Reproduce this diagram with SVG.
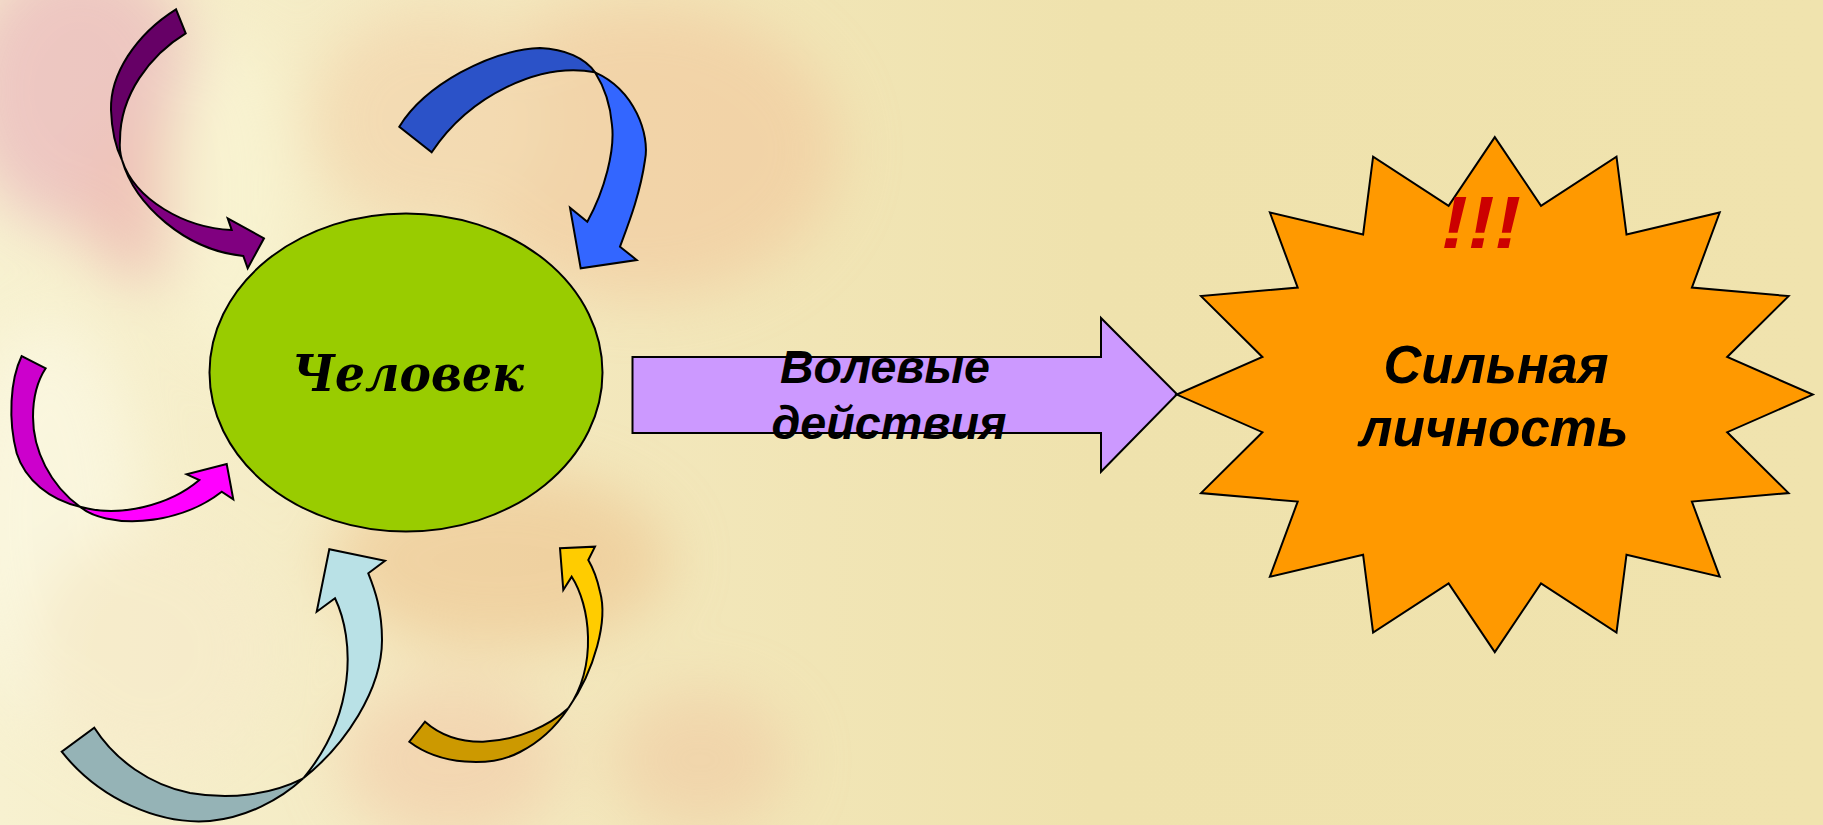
<svg xmlns="http://www.w3.org/2000/svg" width="1823" height="825" viewBox="0 0 1823 825">
  <defs>
    <linearGradient id="bgGrad" x1="0" y1="0" x2="1" y2="0">
      <stop offset="0" stop-color="#F7F1D0"/>
      <stop offset="0.3" stop-color="#F3E8BE"/>
      <stop offset="0.6" stop-color="#EFE2AD"/>
      <stop offset="1" stop-color="#F0E3AE"/>
    </linearGradient>
    <filter id="blurBig" x="-50%" y="-50%" width="200%" height="200%">
      <feGaussianBlur stdDeviation="30"/>
    </filter>
    <filter id="blurMid" x="-50%" y="-50%" width="200%" height="200%">
      <feGaussianBlur stdDeviation="14"/>
    </filter>
    <style>
      .ol { stroke: #000000; stroke-width: 2; stroke-linejoin: miter; }
      .sans { font-family: "Liberation Sans", Arial, sans-serif; font-weight: bold; font-style: italic; }
      .serif { font-family: "DejaVu Serif", "Liberation Serif", serif; font-weight: bold; font-style: italic; }
    </style>
  </defs>

  <g id="background">
    <rect x="0" y="0" width="1823" height="825" fill="url(#bgGrad)"/>
    <g filter="url(#blurBig)" opacity="0.55">
      <ellipse cx="80" cy="90" rx="120" ry="140" fill="#E6A6B8"/>
      <ellipse cx="150" cy="200" rx="70" ry="80" fill="#E9A0A8"/>
      <ellipse cx="230" cy="200" rx="60" ry="170" fill="#FBF8D8"/>
      <ellipse cx="50" cy="520" rx="90" ry="200" fill="#FDFBEA"/>
      <ellipse cx="640" cy="150" rx="200" ry="150" fill="#F2C59A"/>
      <ellipse cx="430" cy="120" rx="120" ry="110" fill="#F3CFA6"/>
      <ellipse cx="500" cy="560" rx="170" ry="90" fill="#EDC089"/>
      <ellipse cx="450" cy="760" rx="110" ry="80" fill="#F2C7A5"/>
      <ellipse cx="700" cy="760" rx="90" ry="70" fill="#F0C8A0"/>
      <ellipse cx="150" cy="650" rx="120" ry="120" fill="#F7EACB"/>
    </g>
  </g>

  <g id="connectors">
    <!-- purple curved arrow (top-left) -->
    <g id="arrow-purple">
      <path class="ol" fill="#660066" d="M176,9.3 C135,35 110,75 111,110 Q112,140 122,160 Q119,150 120,140 C120,95 150,55 185.7,33.3 Z"/>
      <path class="ol" fill="#800080" d="M122,160 C135,205 185,250 243.3,256 L247.7,268.3 L264,238.3 L227.7,218.3 L231.7,230 C185,228 135,200 122,160 Z"/>
    </g>
    <!-- blue curved arrow (top) -->
    <g id="arrow-blue">
      <path class="ol" fill="#2B52C8" d="M399.3,126.7 C425,85 490,50 540,48 C565,49 585,58 595,72.3 C540,62 470,95 431.7,152.3 Z"/>
      <path class="ol" fill="#3366FF" d="M595,72.3 C635,90 650,135 645,160 C640,195 628,225 620,246.7 L636.7,260 L580.7,268.3 L570,207.7 L587.3,221.7 C605,190 615,150 612,125 C610,100 603,85 595,72.3 Z"/>
    </g>
    <!-- magenta curved arrow (left) -->
    <g id="arrow-magenta">
      <path class="ol" fill="#CC00CC" d="M21.7,356 C10,380 8,420 16.7,453.3 C25,480 50,500 80,506.7 C50,485 33,450 33,417 C33,395 38,380 45.7,368.3 Z"/>
      <path class="ol" fill="#FF00FF" d="M80,506.7 C105,528 175,528 221.7,491.7 L233.3,499.3 L226.7,464 L186.7,474.3 L199.3,480 C170,505 120,518 80,506.7 Z"/>
    </g>
    <!-- grey-blue curved arrow (bottom) -->
    <g id="arrow-lightblue">
      <path class="ol" fill="#95B3B6" d="M61.7,751.7 C100,800 160,825 210,821 C245,818 280,800 303.3,778.3 C270,795 230,800 190,793 C150,785 115,760 94.3,727.7 Z"/>
      <path class="ol" fill="#B9E1E6" d="M303.3,778.3 C345,745 382,690 382,640 C382,610 375,590 368.3,573.3 L385,560.7 L329.3,549.3 L316.7,611.7 L335,598.3 C355,640 356,715 303.3,778.3 Z"/>
    </g>
    <!-- yellow curved arrow (bottom right) -->
    <g id="arrow-yellow">
      <path class="ol" fill="#CC9900" d="M409.3,741.7 C440,765 490,768 520,752 C540,742 555,728 568.3,708.3 C550,725 520,740 483,741.7 C460,742 440,735 425,721.7 Z"/>
      <path class="ol" fill="#FFCC00" d="M568.3,708.3 C595,670 608,620 600,591.7 C597,578 593,568 588.3,560 L595,546.7 L560,548.3 L563.3,590 L571.7,576.7 C590,605 598,665 568.3,708.3 Z"/>
    </g>
    <!-- block arrow -->
    <g id="arrow-block">
      <path class="ol" fill="#CC99FF" d="M632.5,357 L1101,357 L1101,318 L1177,394.3 L1101,471.7 L1101,433 L632.5,433 Z"/>
      <text class="sans" font-size="46" text-anchor="middle" x="885" y="383" textLength="210" lengthAdjust="spacingAndGlyphs" fill="#000000">Волевые</text>
      <text class="sans" font-size="46" text-anchor="middle" x="889" y="439" textLength="235" lengthAdjust="spacingAndGlyphs" fill="#000000">действия</text>
    </g>
  </g>

  <g id="node-chelovek">
    <ellipse class="ol" cx="406" cy="372.5" rx="196.5" ry="159" fill="#99CC00"/>
    <text class="serif" font-size="50" text-anchor="middle" x="408" y="391" textLength="232" lengthAdjust="spacingAndGlyphs" fill="#000000">Человек</text>
  </g>

  <g id="node-silnaya">
    <polygon class="ol" fill="#FF9900" points="1494.8,137.1 1541.0,205.8 1616.5,156.7 1626.5,234.5 1719.7,212.5 1691.9,287.6 1788.6,296.1 1727.2,357.0 1812.8,394.6 1727.2,432.2 1788.6,493.1 1691.9,501.6 1719.7,576.7 1626.5,554.7 1616.5,632.5 1541.0,583.4 1494.8,652.1 1448.6,583.4 1373.1,632.5 1363.1,554.7 1269.9,576.7 1297.7,501.6 1201.0,493.1 1262.4,432.2 1176.8,394.6 1262.4,357.0 1201.0,296.1 1297.7,287.6 1269.9,212.5 1363.1,234.5 1373.1,156.7 1448.6,205.8"/>
    <text class="sans" font-size="74" text-anchor="middle" x="1481" y="248" textLength="80" lengthAdjust="spacingAndGlyphs" fill="#CC0000">!!!</text>
    <text class="sans" font-size="54" text-anchor="middle" x="1496" y="383" textLength="225" lengthAdjust="spacingAndGlyphs" fill="#000000">Сильная</text>
    <text class="sans" font-size="54" text-anchor="middle" x="1494" y="446" textLength="269" lengthAdjust="spacingAndGlyphs" fill="#000000">личность</text>
  </g>
</svg>
